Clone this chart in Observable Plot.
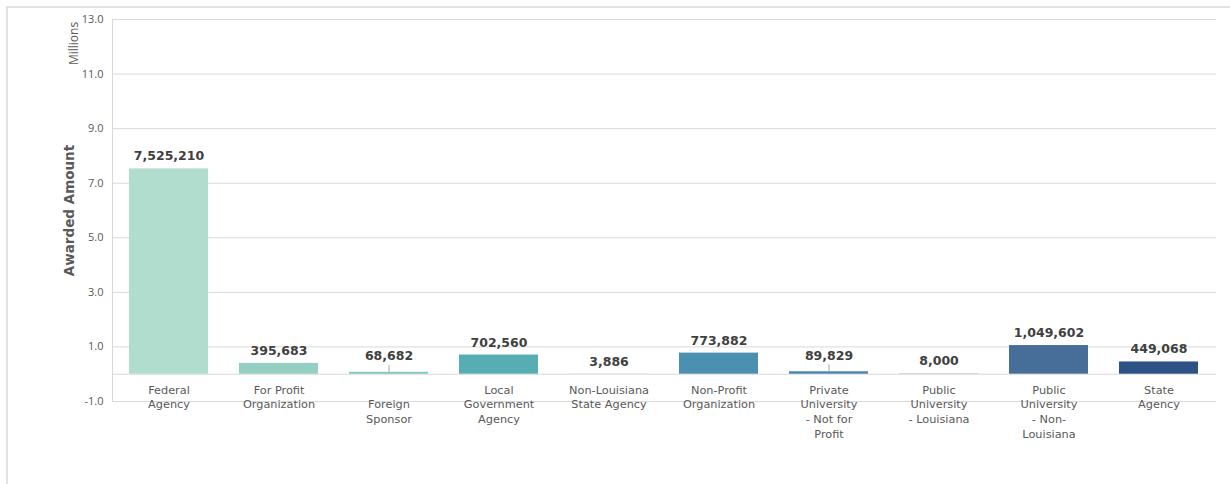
<!DOCTYPE html>
<html>
<head>
<meta charset="utf-8">
<script src="https://cdn.jsdelivr.net/npm/d3@7"></script>
<script src="https://cdn.jsdelivr.net/npm/@observablehq/plot@0.6"></script>
<style>
  html, body { margin: 0; padding: 0; background: #fff; }
  #wrap { position: relative; width: 1230px; height: 484px; }
  #border { position: absolute; left: 6px; top: 6px; right: 0; bottom: 0; border-top: 2px solid #e3e3e3; border-left: 2px solid #e3e3e3; pointer-events: none; }
</style>
</head>
<body>
<div id="wrap"><div id="border"></div></div>
<script>
const categories = ["Federal Agency", "For Profit Organization", "Foreign Sponsor", "Local Government Agency", "Non-Louisiana State Agency", "Non-Profit Organization", "Private University - Not for Profit", "Public University - Louisiana", "Public University - Non-Louisiana", "State Agency"];
const values = [7525210, 395683, 68682, 702560, 3886, 773882, 89829, 8000, 1049602, 449068];
const categoryLabels = ["Federal\nAgency", "For Profit\nOrganization", "\u00a0\nForeign\nSponsor", "Local\nGovernment\nAgency", "Non-Louisiana\nState Agency", "Non-Profit\nOrganization", "Private\nUniversity\n- Not for\nProfit", "Public\nUniversity\n- Louisiana", "Public\nUniversity\n- Non-\nLouisiana", "State\nAgency"];
const colors = ["#b1ddcf", "#94cfc4", "#7ec7bf", "#57adb4", "#50a0b4", "#4b90b1", "#4a87ae", "#477aa3", "#466e99", "#2e5286"];
const leaderCategories = ["Foreign Sponsor", "Private University - Not for Profit"];
const yTicks = [-1, 1, 3, 5, 7, 9, 11, 13];

const data = categories.map((c, i) => ({category: c, value: values[i], label: categoryLabels[i], color: colors[i]}));
const plain = data.filter(d => !leaderCategories.includes(d.category));
const leader = data.filter(d => leaderCategories.includes(d.category));
const fmt = d3.format(",");

const chart = Plot.plot({
  width: 1230,
  height: 484,
  marginLeft: 112,
  marginRight: 14,
  marginTop: 19,
  marginBottom: 83,
  style: {fontFamily: "DejaVu Sans", background: "transparent"},
  x: {domain: categories, paddingInner: 0.28, paddingOuter: 0.14, axis: null},
  y: {domain: [-1e6, 13e6], axis: null},
  marks: [
    Plot.ruleY(yTicks.map(d => d * 1e6), {stroke: "#d9d9d9", strokeWidth: 1}),
    Plot.ruleY([0], {stroke: "#d9d9d9", strokeWidth: 1}),
    Plot.frame({anchor: "left", stroke: "#d9d9d9"}),
    Plot.axisY({ticks: yTicks.map(d => d * 1e6), tickFormat: d => (d / 1e6).toFixed(1), tickSize: 0, tickPadding: 9, fontFamily: "Open Sans", fontSize: 11, color: "#595959", label: null}),
    Plot.barY(data, {x: "category", y: "value", fill: "color"}),
    Plot.text(plain, {x: "category", y: "value", text: d => fmt(d.value), dy: -12.5, fontWeight: "bold", fontSize: 12.5, fill: "#404040"}),
    Plot.text(leader, {x: "category", y: "value", text: d => fmt(d.value), dy: -16, fontWeight: "bold", fontSize: 12.5, fill: "#404040"}),
    Plot.ruleX(leader, {x: "category", y1: "value", y2: d => d.value + 0.26e6, stroke: "#a6a6a6", strokeWidth: 1}),
    Plot.text(data, {x: "category", y: 0, text: "label", dy: 9, lineAnchor: "top", lineHeight: 1.3, fontSize: 11.3, fill: "#595959"}),
    Plot.text(["Awarded Amount"], {frameAnchor: "left", dx: -43, rotate: -90, textAnchor: "middle", fontWeight: "bold", fontSize: 13.5, fill: "#595959"}),
    Plot.text(["Millions"], {frameAnchor: "top-left", dx: -43, dy: 24, rotate: -90, textAnchor: "middle", fontFamily: "Open Sans", fontSize: 12, fill: "#595959"})
  ]
});
document.getElementById("wrap").prepend(chart);
</script>
</body>
</html>
